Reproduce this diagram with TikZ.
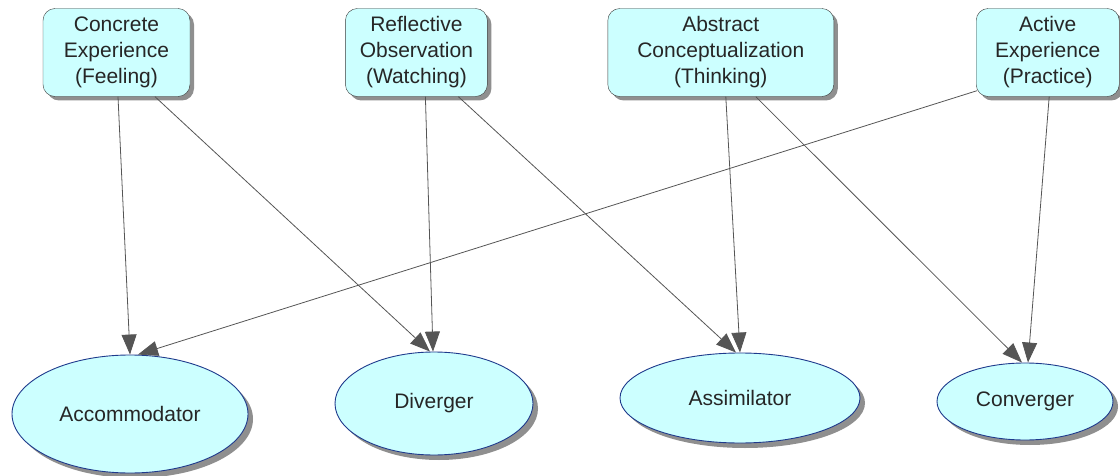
\documentclass[tikz,border=0pt]{standalone}
\usepackage{fontspec}
\setmainfont{Liberation Sans}
\usetikzlibrary{arrows.meta, positioning, shapes.geometric, shadows}

\definecolor{stagefill}{HTML}{CCFFFF}
\definecolor{stageline}{HTML}{3A3A3A}
\definecolor{styleline}{HTML}{1E3A8C}
\definecolor{linkgray}{HTML}{555555}

\begin{document}
\begin{tikzpicture}[->, >={Triangle[length=20pt, width=15pt]}, x=1pt, y=-1pt,
	font=\fontsize{21}{26}\selectfont, text=black!85,
	stage/.style={draw=stageline, fill=stagefill, rounded corners=12pt, align=center, inner sep=0pt, minimum height=88pt, drop shadow={shadow xshift=4pt, shadow yshift=-4pt, fill=black!55, opacity=0.8}},
	learner/.style={draw=styleline, fill=stagefill, ellipse, inner sep=0pt, line width=0.9pt, drop shadow={shadow xshift=5pt, shadow yshift=-5pt, fill=black!55, opacity=0.8}},
	link/.style={draw=linkgray, line width=0.8pt}]
		
		\useasboundingbox (0,0) rectangle (1120,476);
		
		% Learning stages
		\node[stage, minimum width=147pt] (concrete) at (116.5,52.5) {Concrete\\Experience\\(Feeling)};
		\node[stage, minimum width=142pt, right=155pt of concrete] (reflective) {Reflective\\Observation\\(Watching)};
		\node[stage, minimum width=226pt, right=120pt of reflective] (abstract) {Abstract\\Conceptualization\\(Thinking)};
		\node[stage, minimum width=143pt, right=142pt of abstract] (active) {Active\\Experience\\(Practice)};
		
		% Learning styles
		\node[learner, minimum width=236pt, minimum height=118pt] (accom) at (130,414) {Accommodator};
		\node[learner, minimum width=198pt, minimum height=103pt] (diverger) at (434,403.5) {Diverger};
		\node[learner, minimum width=240pt, minimum height=90pt] (assim) at (740,398) {Assimilator};
		\node[learner, minimum width=176pt, minimum height=77pt] (converger) at (1025,401.5) {Converger};
		
		% Connections
		\draw[link] ([xshift=1.5pt]concrete.south) -- (accom.north);
		\draw[link] ([xshift=38.5pt]concrete.south) -- ([xshift=-4pt]diverger.north);
		\draw[link] ([xshift=9pt]reflective.south) -- ([xshift=-1pt]diverger.north);
		\draw[link] ([xshift=42pt]reflective.south) -- ([xshift=-4pt]assim.north);
		\draw[link] ([xshift=5pt]abstract.south) -- (assim.north);
		\draw[link] ([xshift=35pt]abstract.south) -- ([xshift=-3pt]converger.north);
		\draw[link] ([xshift=1.5pt]active.south) -- ([xshift=3pt]converger.north);
		\draw[link] ([xshift=1pt,yshift=6pt]active.south west) -- ([xshift=8pt]accom.north);
		
	\end{tikzpicture}
\end{document}
